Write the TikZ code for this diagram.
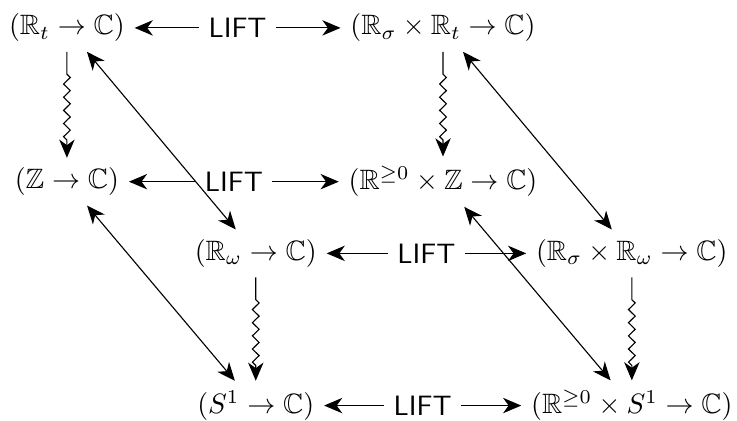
\documentclass[tikz,border=0pt]{standalone}
\usepackage{amsmath,amssymb}
\usetikzlibrary{arrows.meta,positioning,decorations.pathmorphing}

\begin{document}
\begin{tikzpicture}[
    >={Stealth[length=6.5pt,width=5.5pt,inset=2pt]},
    obj/.style={inner sep=3.33pt},
    liftlbl/.style={fill=white, font=\sffamily, inner sep=3.33pt},
    squig/.style={->, decorate, decoration={zigzag, amplitude=1.2pt,
        segment length=4.7pt, pre length=8pt, post length=5pt}}
  ]
    \useasboundingbox (0,0) rectangle (9.25,-5.28);

    % Back face (t and Z)
    \node[obj] (Rt)    at (0.84,-0.35) {$(\mathbb{R}_t \to \mathbb{C})$};
    \node[obj] (RsRt)  at (5.56,-0.35) {$(\mathbb{R}_\sigma \times \mathbb{R}_t \to \mathbb{C})$};
    \node[obj] (Z)     at (0.84,-2.28) {$(\mathbb{Z} \to \mathbb{C})$};
    \node[obj] (RpZ)   at (5.56,-2.28) {$(\mathbb{R}^{\geq 0} \times \mathbb{Z} \to \mathbb{C})$};

    % Front face (omega and S^1)
    \node[obj] (Rw)    at (3.21,-3.18) {$(\mathbb{R}_\omega \to \mathbb{C})$};
    \node[obj] (RsRw)  at (7.93,-3.18) {$(\mathbb{R}_\sigma \times \mathbb{R}_\omega \to \mathbb{C})$};
    \node[obj] (S)     at (3.21,-5.09) {$(S^1 \to \mathbb{C})$};
    \node[obj] (RpS)   at (7.93,-5.09) {$(\mathbb{R}^{\geq 0} \times S^1 \to \mathbb{C})$};

    % LIFT arrows
    \draw[<->] (Rt) -- node[liftlbl] {LIFT} (RsRt);
    \draw[<->] (Z)  -- node[liftlbl] {LIFT} (RpZ);
    \draw[<->] (Rw) -- node[liftlbl] {LIFT} (RsRw);
    \draw[<->] (S)  -- node[liftlbl] {LIFT} (RpS);

    % squiggly arrows
    \draw[squig] (Rt)   -- (Z);
    \draw[squig] (RsRt) -- (RpZ);
    \draw[squig] (Rw)   -- (S);
    \draw[squig] (RsRw) -- (RpS);

    % diagonals
    \draw[<->] (Rt)   -- (Rw);
    \draw[<->] (RsRt) -- (RsRw);
    \draw[<->] (Z)    -- (S);
    \draw[<->] (RpZ)  -- (RpS);
\end{tikzpicture}
\end{document}
